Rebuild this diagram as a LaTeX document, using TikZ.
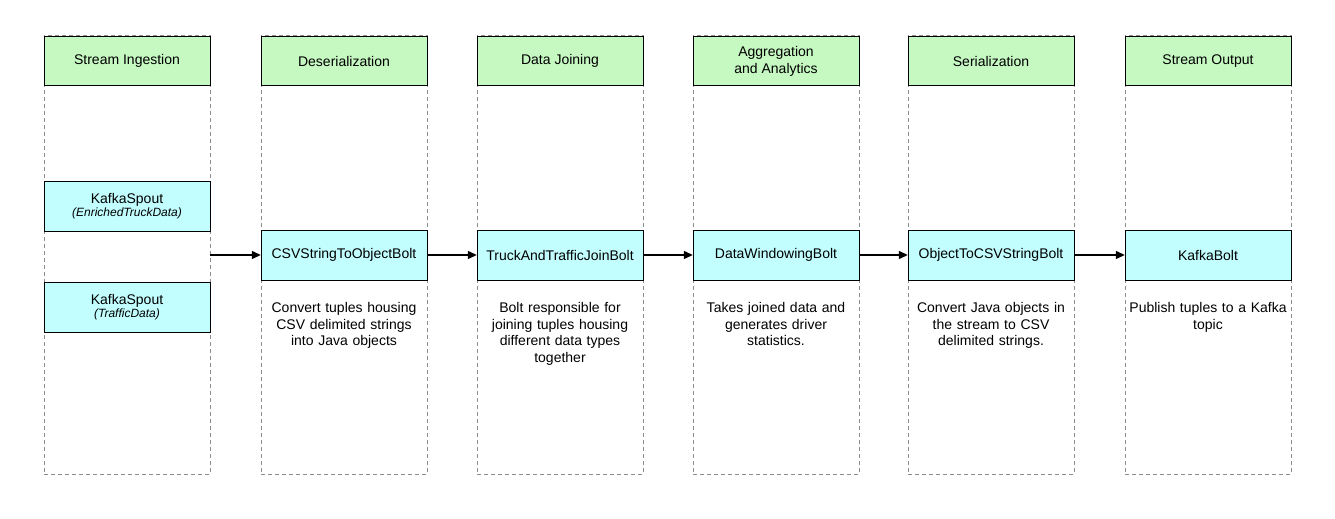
\documentclass[tikz,border=0pt]{standalone}
\usepackage{fontspec}
\setmainfont{Liberation Sans}
\usetikzlibrary{arrows.meta,positioning}
\definecolor{hdrgreen}{HTML}{C6F8C2}
\definecolor{boltcyan}{HTML}{C2FEFE}
\tikzset{
	lane/.style={draw=black!45,dash pattern=on 4pt off 3pt,minimum width=166pt,minimum height=439pt,inner sep=0pt},
	header/.style={draw,fill=hdrgreen,minimum width=166pt,minimum height=49pt,inner sep=0pt,align=center,font=\fontsize{14}{17}\selectfont},
	bolt/.style={draw,fill=boltcyan,minimum width=166pt,minimum height=50pt,inner sep=0pt,align=center,font=\fontsize{14}{16}\selectfont},
	note/.style={align=center,text width=164pt,inner sep=0pt,font=\fontsize{14}{16.5}\selectfont},
	flow/.style={-{Triangle[length=9pt,width=8pt]},line width=1.3pt}
}
\newcommand{\subname}[1]{\\[-3pt]{\fontsize{12}{13}\selectfont\itshape(#1)}}
\begin{document}
\begin{tikzpicture}[x=1pt,y=-1pt]
	\useasboundingbox (0,0) rectangle (1335,519);
	% lanes and their headers
	\foreach \i/\x/\t in {1/127/Stream Ingestion,2/344/Deserialization,3/560/Data Joining,
		4/776/{Aggregation\\and Analytics},5/991/Serialization,6/1208/Stream Output}{
		\node[lane] (L\i) at (\x,254.5) {};
		\node[header] (H\i) at (\x,61) {\t};
	}
	% bolts
	\node[bolt] (spoutA) at (127,206) {KafkaSpout\subname{EnrichedTruckData}};
	\node[bolt] (spoutB) at (127,307.5) {KafkaSpout\subname{TrafficData}};
	\node[bolt] (csv) at (344,255) {CSVStringToObjectBolt};
	\node[bolt] (join) at (560,255) {TruckAndTrafficJoinBolt};
	\node[bolt] (window) at (776,255) {DataWindowingBolt};
	\node[bolt] (ser) at (991,255) {ObjectToCSVStringBolt};
	\node[bolt] (kbolt) at (1208,255) {KafkaBolt};
	\coordinate (spoutout) at (L1.east |- csv.west);
	% notes
	\node[note,below=22pt of csv] (csvnote) {Convert tuples housing\\CSV delimited strings\\into Java objects};
	\node[note,below=22pt of join] (joinnote) {Bolt responsible for\\joining tuples housing\\different data types\\together};
	\node[note,below=22pt of window] (windownote) {Takes joined data and\\generates driver\\statistics.};
	\node[note,below=22pt of ser] (sernote) {Convert Java objects in\\the stream to CSV\\delimited strings.};
	\node[note,below=22pt of kbolt] (kboltnote) {Publish tuples to a Kafka\\topic};
	\draw[flow] (spoutout) -- (csv);
	\draw[flow] (csv) -- (join);
	\draw[flow] (join) -- (window);
	\draw[flow] (window) -- (ser);
	\draw[flow] (ser) -- (kbolt);
\end{tikzpicture}
\end{document}
